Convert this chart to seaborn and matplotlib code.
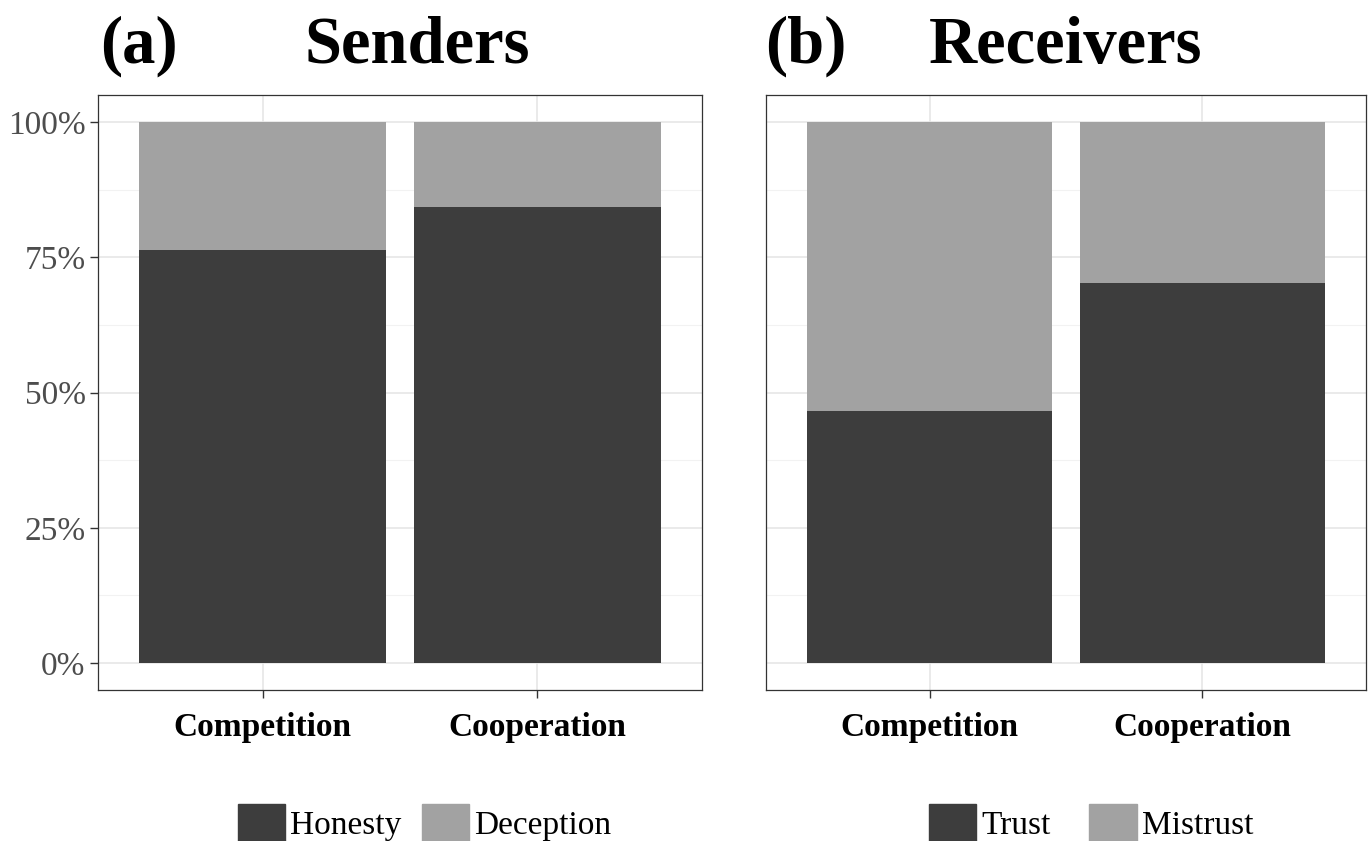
# Senders / Receivers stacked proportion bars
import matplotlib
matplotlib.use("Agg")
import pandas as pd
import matplotlib.pyplot as plt
import seaborn as sns
from matplotlib.patches import Patch
from matplotlib.ticker import PercentFormatter, MultipleLocator

# Data (proportions)
conditions = ["Competition", "Cooperation"]
honesty = [0.764, 0.843]
trust = [0.466, 0.702]
total = [1.0, 1.0]

senders = pd.DataFrame({"condition": conditions, "lower": honesty, "total": total})
receivers = pd.DataFrame({"condition": conditions, "lower": trust, "total": total})

dark = "#3d3d3d"
light = "#a2a2a2"

sns.set_theme(style="white")
plt.rcParams["font.family"] = ["Liberation Serif", "DejaVu Serif"]
plt.rcParams["text.color"] = "black"

fig = plt.figure(figsize=(13.69, 8.41), dpi=100)
ax1 = fig.add_axes([0.0716, 0.1795, 0.4412, 0.7075])
ax2 = fig.add_axes([0.5595, 0.1795, 0.4383, 0.7075])


def draw_panel(ax, df, show_y):
    sns.barplot(data=df, x="condition", y="total", color=light, width=0.9,
                saturation=1, linewidth=0, ax=ax, zorder=3)
    sns.barplot(data=df, x="condition", y="lower", color=dark, width=0.9,
                saturation=1, linewidth=0, ax=ax, zorder=3)
    ax.set_xlim(-0.6, 1.6)
    ax.set_ylim(-0.05, 1.05)
    ax.yaxis.set_major_locator(MultipleLocator(0.25))
    ax.yaxis.set_minor_locator(MultipleLocator(0.125))
    ax.yaxis.set_major_formatter(PercentFormatter(1.0, decimals=0))
    ax.grid(True, which="major", color="#e6e6e6", lw=1.2, zorder=0)
    ax.grid(True, which="minor", axis="y", color="#f2f2f2", lw=0.8, zorder=0)
    ax.set_axisbelow(True)
    ax.set_xlabel("")
    ax.set_ylabel("")
    for s in ax.spines.values():
        s.set_color("#333333")
        s.set_linewidth(0.9)
    ax.tick_params(axis="x", which="major", length=6, width=1, color="#333333",
                   pad=10, labelsize=24, labelcolor="black", bottom=True)
    ax.tick_params(axis="y", which="major", length=6, width=1, color="#333333",
                   pad=3, labelsize=24, labelcolor="#4d4d4d", left=show_y,
                   labelleft=show_y)
    ax.tick_params(axis="y", which="minor", length=0)
    for lab in ax.get_xticklabels():
        lab.set_fontweight("bold")


draw_panel(ax1, senders, True)
draw_panel(ax2, receivers, False)

# Titles
fig.text(0.073, 0.945, "(a)", fontsize=48, fontweight="bold", va="center", ha="left")
fig.text(0.305, 0.945, "Senders", fontsize=48, fontweight="bold", va="center", ha="center")
fig.text(0.559, 0.945, "(b)", fontsize=48, fontweight="bold", va="center", ha="left")
fig.text(0.778, 0.945, "Receivers", fontsize=48, fontweight="bold", va="center", ha="center")

# Legends
leg_kw = dict(loc="center", ncol=2, frameon=False, fontsize=24, handlelength=1.42,
              handleheight=1.42, handletextpad=0.15, borderaxespad=0)
fig.legend(handles=[Patch(color=dark, label="Honesty"), Patch(color=light, label="Deception")],
           bbox_to_anchor=(0.31, 0.021), columnspacing=0.6, **leg_kw)
fig.legend(handles=[Patch(color=dark, label="Trust"), Patch(color=light, label="Mistrust")],
           bbox_to_anchor=(0.797, 0.021), columnspacing=1.15, **leg_kw)

plt.savefig("out.png", dpi=100)
